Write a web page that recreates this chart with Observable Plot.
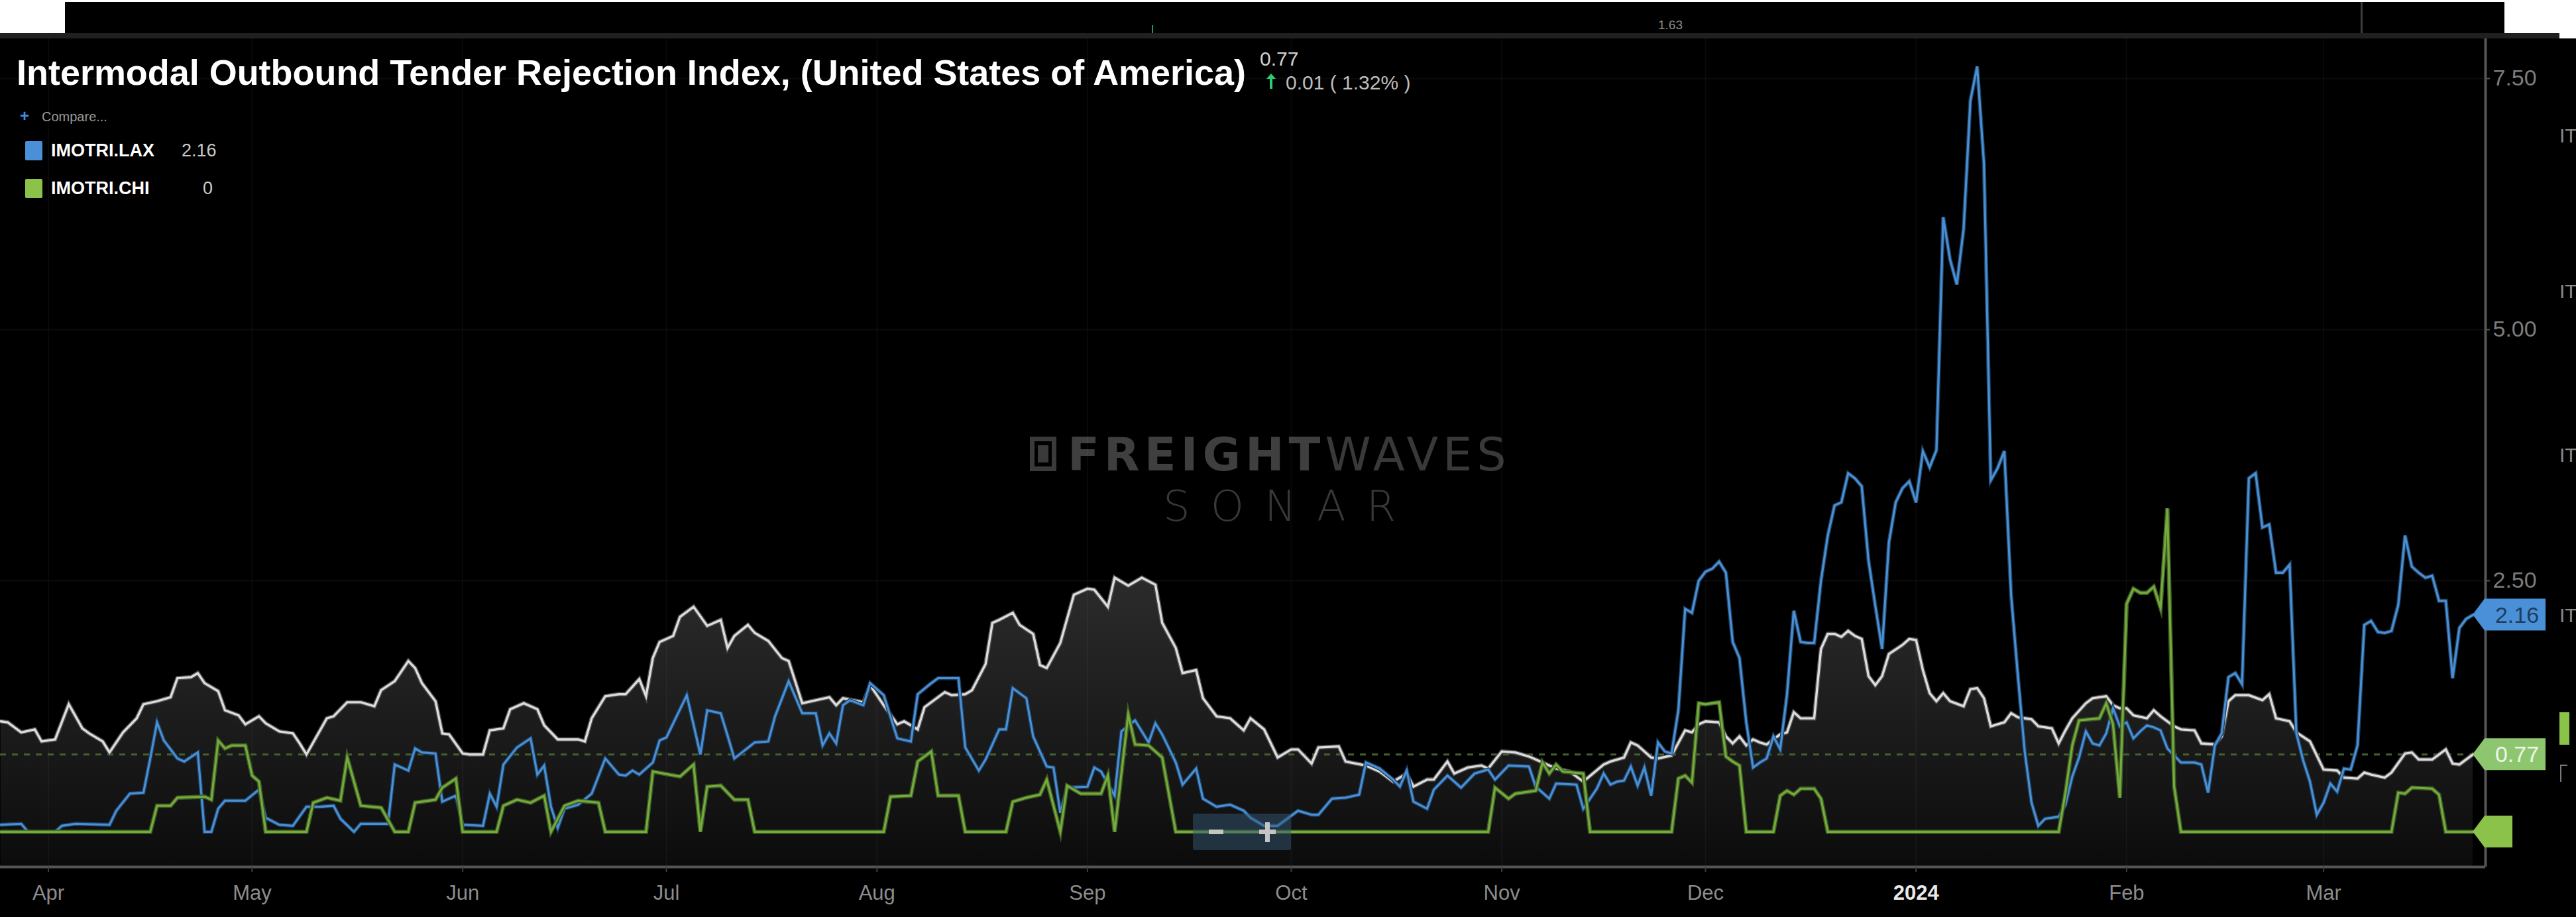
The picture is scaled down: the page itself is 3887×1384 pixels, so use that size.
<!DOCTYPE html>
<html>
<head>
<meta charset="utf-8">
<script src="https://cdn.jsdelivr.net/npm/d3@7"></script>
<script src="https://cdn.jsdelivr.net/npm/@observablehq/plot@0.6"></script>
<style>
  html, body { margin:0; padding:0; }
  body { width:3887px; height:1384px; position:relative; overflow:hidden; background:#fff; font-family:"Liberation Sans", Arial, sans-serif; }
  .abs { position:absolute; white-space:nowrap; }
  #topstrip { left:98px; top:3px; width:3681px; height:47px; background:#000; overflow:hidden; }
  #band { left:0; top:50px; width:3862px; height:8px; background:#202020; z-index:2; }
  #main { left:0; top:58px; width:3887px; height:1326px; background:#000; z-index:1; }
  .ov { z-index:5; }
  .wm { z-index:2; font-family:"DejaVu Sans", sans-serif; }
</style>
</head>
<body>
<div id="topstrip" class="abs">
  <div class="abs" style="left:3464px;top:0;width:3px;height:47px;background:#3c3c3c"></div>
  <div class="abs" style="left:1640px;top:35px;width:2px;height:12px;background:#1f9a5a"></div>
  <div class="abs" id="otherValue" style="left:2404px;top:25px;font-size:19px;line-height:19px;color:#8a8a8a"></div>
</div>
<div id="band" class="abs"></div>
<div id="main" class="abs"></div>

<!-- watermark -->
<div class="abs wm" style="left:1554px;top:659px;width:40px;height:52px;border:7px solid #3a3a3a;box-sizing:border-box"></div>
<div class="abs wm" style="left:1566px;top:672px;width:16px;height:26px;background:#3a3a3a"></div>
<div class="abs wm" style="left:1611px;top:651px;font-size:70px;line-height:70px;letter-spacing:7px;color:#3f3f3f"><b>FREIGHT</b><span style="font-weight:normal;color:#393939">WAVES</span></div>
<div class="abs wm" style="left:1755px;top:732px;font-size:64px;line-height:64px;letter-spacing:31px;font-weight:200;color:#383838">SONAR</div>

<!-- title block -->
<div class="abs ov" id="title" style="left:25px;top:83px;font-size:53px;line-height:53px;font-weight:bold;color:#fff;transform-origin:0 0"></div>
<div class="abs ov" id="lastVal" style="left:1901px;top:74px;font-size:30px;line-height:30px;color:#d2d2d2"></div>
<svg class="abs ov" style="left:1909px;top:110px" width="18" height="24"><path d="M9 24 V6" stroke="#2ecc71" stroke-width="4"/><path d="M2 9 L9 1 L16 9 Z" fill="#2ecc71"/></svg>
<div class="abs ov" id="change" style="left:1940px;top:110px;font-size:30px;line-height:30px;color:#bdbdbd"></div>
<div class="abs ov" style="left:30px;top:163px;font-size:24px;line-height:24px;font-weight:bold;color:#3d8fe0">+</div>
<div class="abs ov" style="left:63px;top:166px;font-size:20px;line-height:20px;color:#9a9a9a">Compare...</div>
<div id="legend"></div>

<!-- zoom control -->
<div class="abs ov" style="left:1800px;top:1228px;width:148px;height:55px;border-radius:3px;background:rgba(52,86,116,0.5)"></div>
<div class="abs ov" style="left:1824px;top:1252px;width:22px;height:7px;background:#c4c4c4"></div>
<div class="abs ov" style="left:1900px;top:1252px;width:25px;height:7px;background:#c4c4c4"></div>
<div class="abs ov" style="left:1909px;top:1241px;width:7px;height:30px;background:#c4c4c4"></div>

<!-- cut-off neighbour axis at the right edge -->
<div class="abs ov" style="left:3862px;top:190px;font-size:30px;line-height:30px;color:#8a8a8a">IT</div>
<div class="abs ov" style="left:3862px;top:425px;font-size:30px;line-height:30px;color:#8a8a8a">IT</div>
<div class="abs ov" style="left:3862px;top:672px;font-size:30px;line-height:30px;color:#8a8a8a">IT</div>
<div class="abs ov" style="left:3862px;top:914px;font-size:30px;line-height:30px;color:#8a8a8a">IT</div>
<div class="abs ov" style="left:3862px;top:1075px;width:15px;height:49px;background:#8bc34a"></div>
<div class="abs ov" style="left:3863px;top:1154px;width:9px;height:24px;border-left:2px solid #777;border-top:2px solid #777"></div>

<script>
// ---------------- data ----------------
const titleText = "Intermodal Outbound Tender Rejection Index, (United States of America)";
const headlineLast = 0.77;
const headlineChange = 0.01;
const headlinePct = 1.32;
const otherChartValue = "1.63";

// IMOTRI.USA (white line + area)
const usaTRI = [
["2023-03-25",1.10],["2023-03-26",1.09],["2023-03-28",0.99],["2023-03-30",1.02],["2023-03-31",0.90],
["2023-04-02",0.92],["2023-04-04",1.27],["2023-04-06",1.03],["2023-04-07",0.98],["2023-04-09",0.90],
["2023-04-10",0.79],["2023-04-12",0.99],["2023-04-14",1.13],["2023-04-15",1.27],["2023-04-17",1.30],
["2023-04-19",1.34],["2023-04-20",1.53],["2023-04-22",1.54],["2023-04-23",1.58],["2023-04-24",1.48],
["2023-04-26",1.40],["2023-04-27",1.21],["2023-04-29",1.16],["2023-04-30",1.07],["2023-05-02",1.15],
["2023-05-03",1.08],["2023-05-05",1.00],["2023-05-07",0.98],["2023-05-08",0.88],["2023-05-09",0.77],
["2023-05-10",0.89],["2023-05-12",1.13],["2023-05-13",1.15],["2023-05-15",1.29],["2023-05-17",1.29],
["2023-05-19",1.25],["2023-05-20",1.41],["2023-05-22",1.50],["2023-05-24",1.70],["2023-05-25",1.63],
["2023-05-26",1.48],["2023-05-28",1.30],["2023-05-29",0.98],["2023-05-30",0.97],["2023-06-01",0.78],
["2023-06-02",0.77],["2023-06-04",0.77],["2023-06-05",1.01],["2023-06-07",1.03],["2023-06-08",1.22],
["2023-06-10",1.28],["2023-06-12",1.22],["2023-06-13",1.06],["2023-06-15",0.92],["2023-06-16",0.92],
["2023-06-18",0.92],["2023-06-19",0.90],["2023-06-20",1.13],["2023-06-22",1.35],["2023-06-24",1.37],
["2023-06-25",1.37],["2023-06-27",1.52],["2023-06-28",1.35],["2023-06-29",1.73],["2023-06-30",1.89],
["2023-07-02",1.95],["2023-07-03",2.14],["2023-07-05",2.24],["2023-07-07",2.05],["2023-07-09",2.11],
["2023-07-10",1.83],["2023-07-11",1.95],["2023-07-13",2.06],["2023-07-14",1.98],["2023-07-16",1.90],
["2023-07-18",1.73],["2023-07-19",1.70],["2023-07-21",1.28],["2023-07-23",1.31],["2023-07-25",1.34],
["2023-07-26",1.26],["2023-07-27",1.33],["2023-07-30",1.29],["2023-07-31",1.46],["2023-08-02",1.26],
["2023-08-04",1.07],["2023-08-05",1.10],["2023-08-07",1.02],["2023-08-08",1.24],["2023-08-11",1.39],
["2023-08-12",1.36],["2023-08-14",1.37],["2023-08-15",1.41],["2023-08-17",1.67],["2023-08-18",2.08],
["2023-08-19",2.11],["2023-08-21",2.18],["2023-08-22",2.06],["2023-08-24",1.97],["2023-08-25",1.66],
["2023-08-26",1.63],["2023-08-28",1.88],["2023-08-29",2.12],["2023-08-30",2.36],["2023-09-01",2.42],
["2023-09-02",2.41],["2023-09-04",2.24],["2023-09-05",2.53],["2023-09-07",2.45],["2023-09-09",2.53],
["2023-09-11",2.46],["2023-09-12",2.08],["2023-09-14",1.83],["2023-09-15",1.58],["2023-09-17",1.61],
["2023-09-18",1.33],["2023-09-20",1.15],["2023-09-22",1.13],["2023-09-24",1.01],["2023-09-25",1.13],
["2023-09-27",1.02],["2023-09-29",0.74],["2023-10-01",0.82],["2023-10-02",0.82],["2023-10-04",0.68],
["2023-10-05",0.84],["2023-10-08",0.85],["2023-10-09",0.70],["2023-10-12",0.66],["2023-10-14",0.60],
["2023-10-16",0.50],["2023-10-18",0.58],["2023-10-19",0.45],["2023-10-21",0.52],["2023-10-22",0.52],
["2023-10-24",0.70],["2023-10-25",0.58],["2023-10-27",0.64],["2023-10-29",0.66],["2023-10-30",0.63],
["2023-11-01",0.80],["2023-11-03",0.79],["2023-11-05",0.75],["2023-11-06",0.72],["2023-11-09",0.63],
["2023-11-11",0.60],["2023-11-13",0.50],["2023-11-16",0.67],["2023-11-17",0.70],["2023-11-19",0.74],
["2023-11-20",0.89],["2023-11-21",0.86],["2023-11-23",0.74],["2023-11-24",0.73],["2023-11-26",0.76],
["2023-11-28",1.01],["2023-11-29",0.99],["2023-11-30",1.07],["2023-12-01",1.10],["2023-12-03",1.09],
["2023-12-04",0.95],["2023-12-05",0.88],["2023-12-06",0.95],["2023-12-07",0.86],["2023-12-08",0.92],
["2023-12-09",0.89],["2023-12-10",0.87],["2023-12-12",0.97],["2023-12-13",0.99],["2023-12-14",1.19],
["2023-12-15",1.13],["2023-12-17",1.13],["2023-12-18",1.82],["2023-12-19",1.97],["2023-12-20",1.97],
["2023-12-21",1.94],["2023-12-22",2.00],["2023-12-23",1.95],["2023-12-24",1.92],["2023-12-25",1.55],
["2023-12-26",1.46],["2023-12-27",1.55],["2023-12-28",1.77],["2023-12-30",1.86],["2023-12-31",1.92],
["2024-01-01",1.91],["2024-01-02",1.61],["2024-01-03",1.38],["2024-01-04",1.30],["2024-01-05",1.38],
["2024-01-06",1.30],["2024-01-08",1.25],["2024-01-09",1.42],["2024-01-10",1.43],["2024-01-11",1.33],
["2024-01-12",1.05],["2024-01-13",1.07],["2024-01-14",1.09],["2024-01-15",1.18],["2024-01-16",1.14],
["2024-01-18",1.12],["2024-01-19",1.05],["2024-01-21",1.03],["2024-01-22",0.88],["2024-01-23",1.01],
["2024-01-24",1.13],["2024-01-26",1.28],["2024-01-27",1.33],["2024-01-29",1.35],["2024-01-30",1.26],
["2024-01-31",1.23],["2024-02-01",1.23],["2024-02-02",1.16],["2024-02-04",1.13],["2024-02-05",1.21],
["2024-02-06",1.15],["2024-02-08",1.05],["2024-02-09",1.02],["2024-02-11",1.01],["2024-02-12",0.88],
["2024-02-14",0.87],["2024-02-15",0.95],["2024-02-16",1.30],["2024-02-17",1.36],["2024-02-19",1.36],
["2024-02-21",1.31],["2024-02-22",1.37],["2024-02-23",1.13],["2024-02-25",1.10],["2024-02-26",0.99],
["2024-02-28",0.90],["2024-03-01",0.62],["2024-03-03",0.61],["2024-03-04",0.54],["2024-03-06",0.53],
["2024-03-07",0.59],["2024-03-08",0.57],["2024-03-10",0.54],["2024-03-11",0.59],["2024-03-13",0.78],
["2024-03-14",0.79],["2024-03-15",0.72],["2024-03-17",0.72],["2024-03-19",0.82],["2024-03-20",0.68],
["2024-03-21",0.67],["2024-03-23",0.77]
];

// IMOTRI.LAX (blue)
const laxTRI = [
["2023-03-25",0.07],["2023-03-28",0.08],["2023-03-29",0.00],["2023-04-02",0.00],["2023-04-03",0.06],
["2023-04-05",0.08],["2023-04-10",0.07],["2023-04-11",0.21],["2023-04-13",0.38],["2023-04-15",0.39],
["2023-04-16",0.73],["2023-04-17",1.09],["2023-04-18",0.91],["2023-04-20",0.73],["2023-04-21",0.70],
["2023-04-23",0.79],["2023-04-24",0.00],["2023-04-25",0.00],["2023-04-26",0.23],["2023-04-27",0.31],
["2023-04-30",0.31],["2023-05-02",0.42],["2023-05-03",0.14],["2023-05-05",0.07],["2023-05-07",0.06],
["2023-05-09",0.25],["2023-05-11",0.25],["2023-05-13",0.26],["2023-05-14",0.13],["2023-05-16",0.00],
["2023-05-17",0.08],["2023-05-21",0.08],["2023-05-22",0.67],["2023-05-24",0.61],["2023-05-25",0.83],
["2023-05-26",0.79],["2023-05-28",0.78],["2023-05-29",0.30],["2023-05-31",0.36],["2023-06-01",0.07],
["2023-06-04",0.06],["2023-06-05",0.38],["2023-06-06",0.25],["2023-06-07",0.67],["2023-06-09",0.84],
["2023-06-11",0.93],["2023-06-12",0.57],["2023-06-13",0.66],["2023-06-14",0.25],["2023-06-15",0.04],
["2023-06-16",0.23],["2023-06-18",0.27],["2023-06-20",0.38],["2023-06-22",0.73],["2023-06-24",0.57],
["2023-06-25",0.56],["2023-06-26",0.61],["2023-06-27",0.57],["2023-06-29",0.69],["2023-06-30",0.91],
["2023-07-01",0.94],["2023-07-04",1.36],["2023-07-06",0.77],["2023-07-07",1.21],["2023-07-09",1.18],
["2023-07-10",0.96],["2023-07-11",0.73],["2023-07-14",0.89],["2023-07-16",0.90],["2023-07-17",1.15],
["2023-07-19",1.50],["2023-07-21",1.18],["2023-07-23",1.18],["2023-07-24",0.86],["2023-07-25",0.98],
["2023-07-26",0.88],["2023-07-27",1.26],["2023-07-28",1.31],["2023-07-30",1.26],["2023-07-31",1.48],
["2023-08-02",1.36],["2023-08-04",0.93],["2023-08-06",0.90],["2023-08-07",1.37],["2023-08-09",1.48],
["2023-08-10",1.53],["2023-08-13",1.53],["2023-08-14",0.84],["2023-08-16",0.61],["2023-08-17",0.72],
["2023-08-19",1.02],["2023-08-20",1.02],["2023-08-21",1.43],["2023-08-23",1.33],["2023-08-24",0.95],
["2023-08-26",0.65],["2023-08-27",0.64],["2023-08-28",0.19],["2023-08-29",0.44],["2023-09-01",0.45],
["2023-09-02",0.64],["2023-09-03",0.60],["2023-09-05",0.36],["2023-09-06",1.00],["2023-09-08",1.11],
["2023-09-10",0.89],["2023-09-11",1.08],["2023-09-12",0.97],["2023-09-14",0.69],["2023-09-15",0.47],
["2023-09-17",0.63],["2023-09-18",0.33],["2023-09-20",0.25],["2023-09-22",0.27],["2023-09-24",0.21],
["2023-09-25",0.14],["2023-09-27",0.06],["2023-09-29",0.06],["2023-10-02",0.21],["2023-10-04",0.17],
["2023-10-05",0.17],["2023-10-07",0.33],["2023-10-09",0.34],["2023-10-11",0.37],["2023-10-12",0.69],
["2023-10-14",0.63],["2023-10-16",0.52],["2023-10-17",0.45],["2023-10-18",0.61],["2023-10-19",0.30],
["2023-10-21",0.23],["2023-10-22",0.42],["2023-10-24",0.56],["2023-10-26",0.44],["2023-10-28",0.58],
["2023-10-30",0.62],["2023-10-31",0.52],["2023-11-02",0.66],["2023-11-05",0.65],["2023-11-06",0.45],
["2023-11-08",0.33],["2023-11-09",0.48],["2023-11-12",0.47],["2023-11-13",0.23],["2023-11-15",0.43],
["2023-11-16",0.58],["2023-11-17",0.47],["2023-11-18",0.50],["2023-11-19",0.51],["2023-11-20",0.65],
["2023-11-21",0.46],["2023-11-22",0.64],["2023-11-23",0.36],["2023-11-24",0.89],["2023-11-25",0.80],
["2023-11-26",0.78],["2023-11-27",1.21],["2023-11-28",2.22],["2023-11-29",2.18],["2023-11-30",2.50],
["2023-12-01",2.59],["2023-12-02",2.62],["2023-12-03",2.69],["2023-12-04",2.58],["2023-12-05",1.89],
["2023-12-06",1.73],["2023-12-07",1.09],["2023-12-08",0.64],["2023-12-09",0.69],["2023-12-10",0.73],
["2023-12-11",0.95],["2023-12-12",0.82],["2023-12-13",1.37],["2023-12-14",2.20],["2023-12-15",1.89],
["2023-12-16",1.88],["2023-12-17",1.88],["2023-12-18",2.50],["2023-12-19",2.95],["2023-12-20",3.25],
["2023-12-21",3.28],["2023-12-22",3.57],["2023-12-23",3.52],["2023-12-24",3.44],["2023-12-25",2.70],
["2023-12-26",2.25],["2023-12-27",1.82],["2023-12-28",2.88],["2023-12-29",3.28],["2023-12-30",3.42],
["2023-12-31",3.49],["2024-01-01",3.28],["2024-01-02",3.79],["2024-01-03",3.63],["2024-01-04",3.80],
["2024-01-05",6.12],["2024-01-06",5.70],["2024-01-07",5.45],["2024-01-08",6.00],["2024-01-09",7.28],
["2024-01-10",7.62],["2024-01-11",6.65],["2024-01-12",3.50],["2024-01-13",3.62],["2024-01-14",3.79],
["2024-01-15",2.35],["2024-01-16",1.55],["2024-01-17",0.80],["2024-01-18",0.29],["2024-01-19",0.06],
["2024-01-20",0.13],["2024-01-22",0.15],["2024-01-23",0.27],["2024-01-24",0.55],["2024-01-25",0.74],
["2024-01-26",1.00],["2024-01-27",0.88],["2024-01-28",0.86],["2024-01-29",0.98],["2024-01-30",1.23],
["2024-01-31",1.05],["2024-02-01",1.09],["2024-02-02",0.93],["2024-02-03",1.00],["2024-02-04",1.06],
["2024-02-05",1.04],["2024-02-06",1.01],["2024-02-07",0.83],["2024-02-09",0.69],["2024-02-11",0.69],
["2024-02-12",0.67],["2024-02-13",0.39],["2024-02-14",0.86],["2024-02-15",0.98],["2024-02-16",1.54],
["2024-02-17",1.58],["2024-02-18",1.47],["2024-02-19",3.52],["2024-02-20",3.57],["2024-02-21",3.03],
["2024-02-22",3.06],["2024-02-23",2.58],["2024-02-24",2.58],["2024-02-25",2.66],["2024-02-26",0.98],
["2024-02-27",0.71],["2024-02-28",0.50],["2024-02-29",0.17],["2024-03-01",0.29],["2024-03-02",0.48],
["2024-03-03",0.40],["2024-03-04",0.63],["2024-03-05",0.62],["2024-03-06",0.86],["2024-03-07",2.06],
["2024-03-08",2.10],["2024-03-09",1.99],["2024-03-10",1.98],["2024-03-11",2.00],["2024-03-12",2.26],
["2024-03-13",2.95],["2024-03-14",2.64],["2024-03-15",2.58],["2024-03-16",2.53],["2024-03-17",2.55],
["2024-03-18",2.30],["2024-03-19",2.30],["2024-03-20",1.53],["2024-03-21",2.03],["2024-03-22",2.12],
["2024-03-23",2.16]
];

// IMOTRI.CHI (green)
const chiTRI = [
["2023-03-25",0],["2023-04-16",0],["2023-04-17",0.26],["2023-04-19",0.26],["2023-04-20",0.34],
["2023-04-24",0.35],["2023-04-25",0.32],["2023-04-26",0.91],["2023-04-27",0.83],["2023-04-28",0.86],
["2023-04-30",0.86],["2023-05-01",0.56],["2023-05-02",0.50],["2023-05-03",0],["2023-05-09",0],
["2023-05-10",0.29],["2023-05-12",0.34],["2023-05-14",0.31],["2023-05-15",0.74],["2023-05-17",0.26],
["2023-05-20",0.24],["2023-05-22",0],["2023-05-24",0],["2023-05-25",0.29],["2023-05-28",0.32],
["2023-05-29",0.44],["2023-05-31",0.53],["2023-06-01",0],["2023-06-06",0],["2023-06-07",0.26],
["2023-06-09",0.32],["2023-06-11",0.29],["2023-06-13",0.36],["2023-06-14",0],["2023-06-16",0.26],
["2023-06-18",0.31],["2023-06-21",0.29],["2023-06-22",0],["2023-06-28",0],["2023-06-29",0.60],
["2023-07-03",0.55],["2023-07-05",0.67],["2023-07-06",0],["2023-07-07",0.45],["2023-07-09",0.46],
["2023-07-11",0.32],["2023-07-13",0.32],["2023-07-14",0],["2023-08-02",0],["2023-08-03",0.35],
["2023-08-06",0.36],["2023-08-07",0.70],["2023-08-09",0.80],["2023-08-10",0.36],["2023-08-13",0.36],
["2023-08-14",0],["2023-08-20",0],["2023-08-21",0.30],["2023-08-23",0.34],["2023-08-25",0.37],
["2023-08-26",0.52],["2023-08-28",0],["2023-08-29",0.46],["2023-08-31",0.38],["2023-09-03",0.38],
["2023-09-04",0.56],["2023-09-05",0],["2023-09-07",1.17],["2023-09-08",0.87],["2023-09-10",0.86],
["2023-09-12",0.74],["2023-09-14",0],["2023-10-30",0],["2023-10-31",0.44],["2023-11-02",0.33],
["2023-11-03",0.38],["2023-11-06",0.41],["2023-11-07",0.69],["2023-11-08",0.58],["2023-11-09",0.67],
["2023-11-10",0.60],["2023-11-13",0.58],["2023-11-14",0],["2023-11-26",0],["2023-11-27",0.53],
["2023-11-28",0.56],["2023-11-29",0.49],["2023-11-30",1.28],["2023-12-01",1.27],["2023-12-03",1.29],
["2023-12-04",0.75],["2023-12-05",0.70],["2023-12-06",0.66],["2023-12-07",0],["2023-12-11",0],
["2023-12-12",0.36],["2023-12-13",0.41],["2023-12-14",0.37],["2023-12-15",0.43],["2023-12-17",0.43],
["2023-12-18",0.33],["2023-12-19",0],["2024-01-22",0],["2024-01-23",0.39],["2024-01-24",0.86],
["2024-01-25",1.11],["2024-01-28",1.13],["2024-01-29",1.28],["2024-01-30",1.07],["2024-01-31",0.34],
["2024-02-01",2.27],["2024-02-02",2.42],["2024-02-03",2.38],["2024-02-04",2.38],["2024-02-05",2.44],
["2024-02-06",2.23],["2024-02-07",3.22],["2024-02-08",0.45],["2024-02-09",0],["2024-03-11",0],
["2024-03-12",0.39],["2024-03-13",0.38],["2024-03-14",0.44],["2024-03-17",0.43],["2024-03-18",0.37],
["2024-03-19",0],["2024-03-23",0]
];

const monthStarts = ["2023-04-01","2023-05-01","2023-06-01","2023-07-01","2023-08-01","2023-09-01",
                     "2023-10-01","2023-11-01","2023-12-01","2024-01-01","2024-02-01","2024-03-01"];
const monthLabels = ["Apr","May","Jun","Jul","Aug","Sep","Oct","Nov","Dec","2024","Feb","Mar"];
const yTicks = [2.5, 5, 7.5];
const legendNames = ["IMOTRI.LAX", "IMOTRI.CHI"];
const legendValues = ["2.16", "0"];
const legendColors = ["#4a90d9", "#8bc34a"];

// ---------------- build ----------------
const toRows = arr => arr.map(([d, v]) => ({date: new Date(d + "T00:00:00Z"), value: v}));
const usa = toRows(usaTRI), lax = toRows(laxTRI), chi = toRows(chiTRI);
const months = monthStarts.map(d => new Date(d + "T00:00:00Z"));
const labelOf = new Map(months.map((m, i) => [m.getTime(), monthLabels[i]]));
const yearTick = months.filter(m => labelOf.get(m.getTime()) === "2024");

const xDomain = [new Date("2023-03-24T22:12:00Z"), new Date("2024-03-24T20:24:00Z")];
const yMin = -0.35, yMax = 7.896;
const lastUsa = usa[usa.length - 1], lastLax = lax[lax.length - 1], lastChi = chi[chi.length - 1];

const chart = Plot.plot({
  width: 3887, height: 1326,
  marginLeft: 0, marginRight: 137, marginTop: 0, marginBottom: 76,
  style: {background: "transparent", color: "#8a8a8a", fontFamily: "'Liberation Sans', Arial, sans-serif", overflow: "visible"},
  x: {type: "utc", domain: xDomain},
  y: {domain: [yMin, yMax]},
  marks: [
    Plot.areaY(usa, {x: "date", y1: yMin, y2: "value", fill: "url(#usaFill)"}),
    Plot.gridX(months, {stroke: "#ffffff", strokeOpacity: 0.035, strokeWidth: 2}),
    Plot.gridY(yTicks, {stroke: "#ffffff", strokeOpacity: 0.045, strokeWidth: 2}),
    Plot.ruleY([lastUsa.value], {x1: xDomain[0], x2: lastUsa.date, stroke: "#46602f", strokeWidth: 3, strokeDasharray: "9,9"}),
    Plot.line(usa, {x: "date", y: "value", stroke: "#4e4e4e", strokeWidth: 6.5, strokeLinejoin: "miter", strokeMiterlimit: 4}),
    Plot.line(usa, {x: "date", y: "value", stroke: "#dcdcdc", strokeWidth: 3.4, strokeLinejoin: "miter", strokeMiterlimit: 4}),
    Plot.line(lax, {x: "date", y: "value", stroke: "#1c3f62", strokeWidth: 6, strokeLinejoin: "miter", strokeMiterlimit: 4}),
    Plot.line(lax, {x: "date", y: "value", stroke: "#4a8fd2", strokeWidth: 3.2, strokeLinejoin: "miter", strokeMiterlimit: 4}),
    Plot.line(chi, {x: "date", y: "value", stroke: "#3e5b24", strokeWidth: 6.5, strokeLinejoin: "miter", strokeMiterlimit: 6}),
    Plot.line(chi, {x: "date", y: "value", stroke: "#74ab3d", strokeWidth: 3.2, strokeLinejoin: "miter", strokeMiterlimit: 6}),
    Plot.ruleY([yMin], {stroke: "#555", strokeWidth: 4}),
    Plot.ruleX([xDomain[1]], {stroke: "#555", strokeWidth: 4}),
    Plot.axisX(months, {tickSize: 8, tickPadding: 19, fontSize: 31, stroke: "#3c3c3c", strokeWidth: 2, fill: "#8c8c8c",
      label: null, tickFormat: d => { const l = labelOf.get(+d); return l === "2024" ? "" : l; }}),
    Plot.text(yearTick, {x: d => d, frameAnchor: "bottom", lineAnchor: "top", dy: 27, text: d => labelOf.get(+d),
      fill: "#e8e8e8", fontSize: 31, fontWeight: "bold"}),
    Plot.axisY(yTicks, {anchor: "right", tickSize: 6, tickPadding: 5, fontSize: 34, stroke: "#555", strokeWidth: 2,
      fill: "#7c7c7c", label: null, tickFormat: d => d.toFixed(2)})
  ]
});

const NS = "http://www.w3.org/2000/svg";
const sx = chart.scale("x"), sy = chart.scale("y");
const defs = document.createElementNS(NS, "defs");
defs.innerHTML = `<linearGradient id="usaFill" gradientUnits="userSpaceOnUse" x1="0" x2="0" y1="${sy.apply(2.6)}" y2="${sy.apply(yMin)}">
  <stop offset="0" stop-color="#2c2c2c"/><stop offset="0.54" stop-color="#1b1b1b"/>
  <stop offset="0.85" stop-color="#111111"/><stop offset="1" stop-color="#0b0b0b"/></linearGradient>`;
chart.insertBefore(defs, chart.firstChild);

// last-value tags
function tag(row, w, fill, text, textFill) {
  const x = sx.apply(row.date), y = sy.apply(row.value);
  const g = document.createElementNS(NS, "g");
  const p = document.createElementNS(NS, "path");
  p.setAttribute("d", `M${x},${y} L${x + 18},${y - 24} L${x + w},${y - 24} L${x + w},${y + 24} L${x + 18},${y + 24} Z`);
  p.setAttribute("fill", fill);
  g.appendChild(p);
  if (text) {
    const t = document.createElementNS(NS, "text");
    t.setAttribute("x", x + 24 + (w - 24) / 2); t.setAttribute("y", y);
    t.setAttribute("dy", "0.36em"); t.setAttribute("text-anchor", "middle");
    t.setAttribute("font-size", "34"); t.setAttribute("fill", textFill);
    t.textContent = text;
    g.appendChild(t);
  }
  chart.appendChild(g);
}
tag(lastChi, 60, "#8bc34a", "", "#fff");
tag(lastUsa, 110, "#8ec670", lastUsa.value.toFixed(2), "#eef7e8");
tag(lastLax, 110, "#4a90d9", lastLax.value.toFixed(2), "#1e3d5c");

chart.id = "chart";
chart.style.left = "0px"; chart.style.top = "58px"; chart.style.position = "absolute"; chart.style.zIndex = 3;
document.body.appendChild(chart);

// texts
const title = document.getElementById("title");
title.textContent = titleText;
const tw = title.getBoundingClientRect().width;
title.style.transform = `scaleX(${1855 / tw})`;
document.getElementById("lastVal").textContent = headlineLast.toFixed(2);
document.getElementById("change").textContent = `${headlineChange.toFixed(2)} ( ${headlinePct.toFixed(2)}% )`;
document.getElementById("otherValue").textContent = otherChartValue;

const legend = document.getElementById("legend");
legendNames.forEach((n, i) => {
  const top = 213 + i * 57;
  legend.insertAdjacentHTML("beforeend",
    `<div class="abs ov" style="left:38px;top:${top}px;width:26px;height:29px;background:${legendColors[i]};border-radius:2px"></div>
     <div class="abs ov" style="left:77px;top:${top + 1}px;font-size:27px;line-height:27px;font-weight:bold;color:#fff">${n}</div>
     <div class="abs ov" style="left:${i === 0 ? 274 : 306}px;top:${top + 1}px;font-size:27px;line-height:27px;color:#c8c8c8">${legendValues[i]}</div>`);
});
</script>
</body>
</html>
